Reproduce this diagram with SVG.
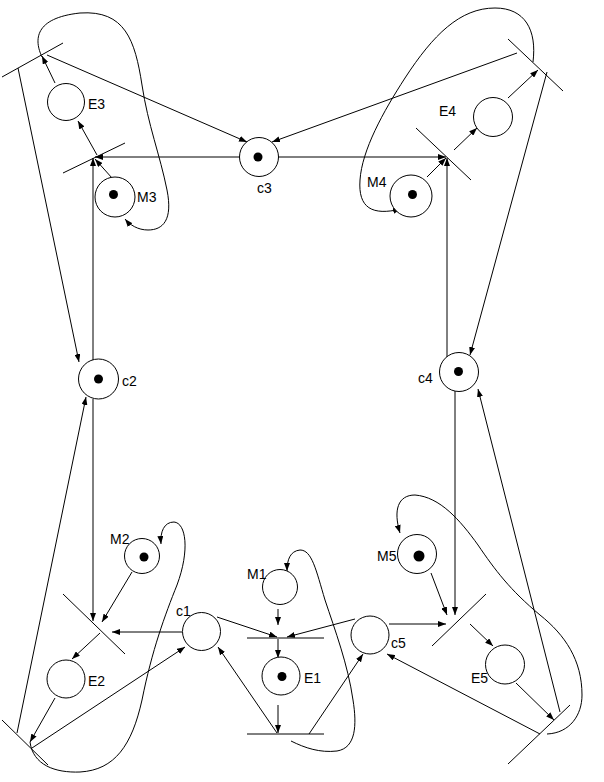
<svg xmlns="http://www.w3.org/2000/svg" width="604" height="782" viewBox="0 0 604 782">
<style>
.pl{fill:#fff;stroke:#000;stroke-width:1}
.tk{fill:#000}
.tr{stroke:#000;stroke-width:1;fill:none}
.ar{stroke:#000;stroke-width:1;fill:none;marker-end:url(#ah)}
.lb{font-family:"Liberation Sans",Arial,sans-serif;font-size:14px;fill:#000}
</style>
<defs>
<marker id="ah" markerUnits="userSpaceOnUse" markerWidth="8" markerHeight="6" refX="8" refY="3" orient="auto">
<path d="M0,0 L8,3 L0,6 z" fill="#000"/>
</marker>
</defs>
<rect width="604" height="782" fill="#fff"/>
<g id="connectors">
<line class="ar" x1="240" y1="157" x2="95" y2="157"/>
<line class="ar" x1="93" y1="360" x2="93" y2="158"/>
<line class="ar" x1="112" y1="178" x2="95" y2="159"/>
<line class="ar" x1="97" y1="155" x2="78" y2="121"/>
<line class="ar" x1="55" y1="83" x2="42" y2="56"/>
<line class="ar" x1="47" y1="55" x2="247" y2="142"/>
<line class="ar" x1="18" y1="68" x2="79" y2="362"/>
<path class="ar" d="M42,57 C34,40 34,18 80,13 C125,10 135,40 142,85 C148,125 160,155 167,190 C173,220 163,230 148,230 C138,230 130,225 125,219"/>
<line class="ar" x1="93" y1="399" x2="93" y2="621"/>
<line class="ar" x1="132" y1="572" x2="102" y2="622"/>
<line class="ar" x1="182" y1="632" x2="112" y2="632"/>
<line class="ar" x1="100" y1="633" x2="72" y2="659"/>
<line class="ar" x1="55" y1="698" x2="30" y2="742"/>
<line class="ar" x1="32" y1="748" x2="185" y2="647"/>
<line class="ar" x1="17" y1="733" x2="86" y2="397"/>
<path class="ar" d="M30,742 C33,765 55,773 80,772 C115,770 132,745 142,700 C152,650 165,615 177,585 C190,550 186,523 174,522 C164,522 160,532 161,544"/>
<line class="ar" x1="217" y1="617" x2="277" y2="637"/>
<line class="ar" x1="278" y1="609" x2="278" y2="625"/>
<line class="ar" x1="355" y1="619" x2="287" y2="637"/>
<line class="ar" x1="278" y1="639" x2="278" y2="658"/>
<line class="ar" x1="278" y1="705" x2="278" y2="733"/>
<line class="ar" x1="277" y1="733" x2="218" y2="647"/>
<line class="ar" x1="309" y1="734" x2="363" y2="654"/>
<path class="ar" d="M291,741 C305,748 320,753 337,751 C356,748 357,725 353,700 C348,665 335,630 325,600 C316,570 312,550 300,550 C290,551 287,560 287,571"/>
<line class="ar" x1="389" y1="624" x2="446" y2="624"/>
<line class="ar" x1="431" y1="573" x2="447" y2="615"/>
<line class="ar" x1="455" y1="391" x2="455" y2="615"/>
<line class="ar" x1="470" y1="624" x2="493" y2="646"/>
<line class="ar" x1="516" y1="683" x2="554" y2="720"/>
<line class="ar" x1="540" y1="734" x2="387" y2="654"/>
<line class="ar" x1="560" y1="712" x2="478" y2="389"/>
<path class="ar" d="M547,734 C570,733 582,715 582,695 C582,660 565,635 540,615 C510,590 495,570 478,545 C460,520 440,497 415,495 C398,495 393,510 400,533"/>
<line class="ar" x1="278" y1="157" x2="446" y2="157"/>
<line class="ar" x1="447" y1="357" x2="447" y2="158"/>
<line class="ar" x1="427" y1="177" x2="446" y2="158"/>
<line class="ar" x1="454" y1="150" x2="477" y2="128"/>
<line class="ar" x1="508" y1="98" x2="538" y2="70"/>
<line class="ar" x1="517" y1="53" x2="272" y2="142"/>
<line class="ar" x1="547" y1="72" x2="470" y2="355"/>
<path class="ar" d="M533,62 C537,30 525,8 495,8 C460,8 433,35 405,78 C383,112 362,150 360,180 C358,208 372,216 401,209"/>
</g>
<g id="t3"><line class="tr" x1="2" y1="77" x2="63" y2="43"/></g>
<g id="tm3"><line class="tr" x1="63" y1="173" x2="125" y2="143"/></g>
<g id="tm2"><line class="tr" x1="63" y1="594" x2="125" y2="654"/></g>
<g id="t2"><line class="tr" x1="2" y1="720" x2="48" y2="765"/></g>
<g id="tm1"><line class="tr" x1="247" y1="638" x2="324" y2="638"/></g>
<g id="t1"><line class="tr" x1="247" y1="734" x2="324" y2="734"/></g>
<g id="tm5"><line class="tr" x1="432" y1="646" x2="486" y2="594"/></g>
<g id="t5"><line class="tr" x1="508" y1="764" x2="570" y2="705"/></g>
<g id="tm4"><line class="tr" x1="416" y1="128" x2="471" y2="180"/></g>
<g id="t4"><line class="tr" x1="508" y1="39" x2="563" y2="91"/></g>
<g id="c3"><circle class="pl" cx="259" cy="157" r="19.5"/><circle class="tk" cx="258" cy="157" r="4.5"/><text class="lb" x="257" y="193">c3</text></g>
<g id="E3"><circle class="pl" cx="66" cy="102" r="18.5"/><text class="lb" x="88" y="109">E3</text></g>
<g id="M3"><circle class="pl" cx="115" cy="197" r="20"/><circle class="tk" cx="113.5" cy="194.5" r="4.5"/><text class="lb" x="137" y="202">M3</text></g>
<g id="c2"><circle class="pl" cx="98.5" cy="379" r="20"/><circle class="tk" cx="98.5" cy="379" r="4.5"/><text class="lb" x="122" y="386">c2</text></g>
<g id="M2"><circle class="pl" cx="142" cy="556" r="17.5"/><circle class="tk" cx="144" cy="557" r="4.5"/><text class="lb" x="110" y="544">M2</text></g>
<g id="E2"><circle class="pl" cx="66" cy="679" r="19"/><text class="lb" x="88" y="686">E2</text></g>
<g id="c1"><circle class="pl" cx="201.5" cy="631.5" r="19"/><text class="lb" x="176" y="616">c1</text></g>
<g id="M1"><circle class="pl" cx="280" cy="587" r="17.5"/><text class="lb" x="247" y="579">M1</text></g>
<g id="E1"><circle class="pl" cx="281" cy="676" r="19"/><circle class="tk" cx="282" cy="676.5" r="4.5"/><text class="lb" x="304" y="683">E1</text></g>
<g id="c5"><circle class="pl" cx="370" cy="635" r="19"/><text class="lb" x="391" y="648">c5</text></g>
<g id="M5"><circle class="pl" cx="417" cy="554" r="19.5"/><circle class="tk" cx="419" cy="556" r="5.5"/><text class="lb" x="377" y="561">M5</text></g>
<g id="E5"><circle class="pl" cx="505" cy="664.5" r="19.5"/><text class="lb" x="471" y="683">E5</text></g>
<g id="c4"><circle class="pl" cx="459" cy="372" r="19.5"/><circle class="tk" cx="458.5" cy="371.5" r="4.5"/><text class="lb" x="418" y="383">c4</text></g>
<g id="M4"><circle class="pl" cx="411" cy="196" r="21"/><circle class="tk" cx="412.5" cy="194.5" r="4.5"/><text class="lb" x="367" y="187">M4</text></g>
<g id="E4"><circle class="pl" cx="493" cy="117" r="19.5"/><text class="lb" x="439" y="116">E4</text></g>
</svg>
